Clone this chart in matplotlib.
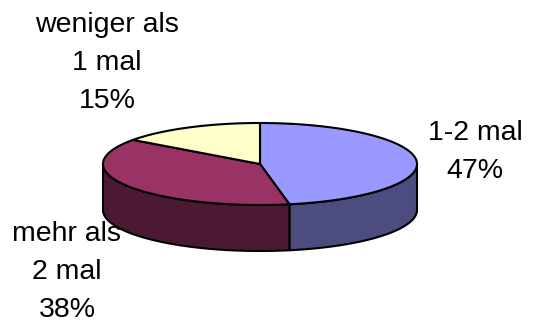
import matplotlib.pyplot as plt
import numpy as np

# Daten
labels = ["1-2 mal", "mehr als\n2 mal", "weniger als\n1 mal"]
values = [47, 38, 15]
top_colors = ["#9999FF", "#993366", "#FFFFCC"]
side_colors = ["#4C4C7F", "#4C1933", "#7F7F66"]

plt.rcParams['font.family'] = ['Liberation Sans', 'DejaVu Sans']

fig = plt.figure(figsize=(5.45, 3.23), dpi=100)
ax = fig.add_axes([0, 0, 1, 1])
ax.set_xlim(0, 545)
ax.set_ylim(323, 0)
ax.axis('off')

cx, cy, rx, ry, depth = 260, 164, 157, 41, 46


def pt(theta, dy=0.0):
    t = np.radians(theta)
    return cx + rx * np.cos(t), cy - ry * np.sin(t) + dy


fracs = np.array(values) / np.sum(values)
ends = 90 - 360 * np.cumsum(fracs)
starts = np.concatenate([[90], ends[:-1]])

# Seitenwände (nur vorne sichtbar)
for a1, a2, col in zip(starts, ends, side_colors):
    lo, hi = a2, a1
    for shift in (-720, -360, 0, 360):
        f_lo, f_hi = max(lo, -180 + shift), min(hi, 0 + shift)
        if f_hi - f_lo <= 0:
            continue
        th = np.linspace(f_lo, f_hi, 100)
        xs, ys = pt(th)
        xb, yb = pt(th[::-1], depth)
        poly = plt.Polygon(np.column_stack([np.r_[xs, xb], np.r_[ys, yb]]),
                           facecolor=col, edgecolor='black', linewidth=1.5,
                           joinstyle='round')
        ax.add_patch(poly)

# Deckflächen
for a1, a2, col in zip(starts, ends, top_colors):
    th = np.linspace(a1, a2, 200)
    xs, ys = pt(th)
    poly = plt.Polygon(np.column_stack([np.r_[cx, xs], np.r_[cy, ys]]),
                       facecolor=col, edgecolor='black', linewidth=1.5,
                       joinstyle='round')
    ax.add_patch(poly)

# Beschriftungen
label_pos = [(475, 152), (67, 272), (107, 63)]
for lab, v, (x, y) in zip(labels, values, label_pos):
    ax.text(x, y, f"{lab}\n{v}%", ha='center', va='center', fontsize=20.5,
            linespacing=1.58, color='black')

fig.savefig("out.png", dpi=100)
